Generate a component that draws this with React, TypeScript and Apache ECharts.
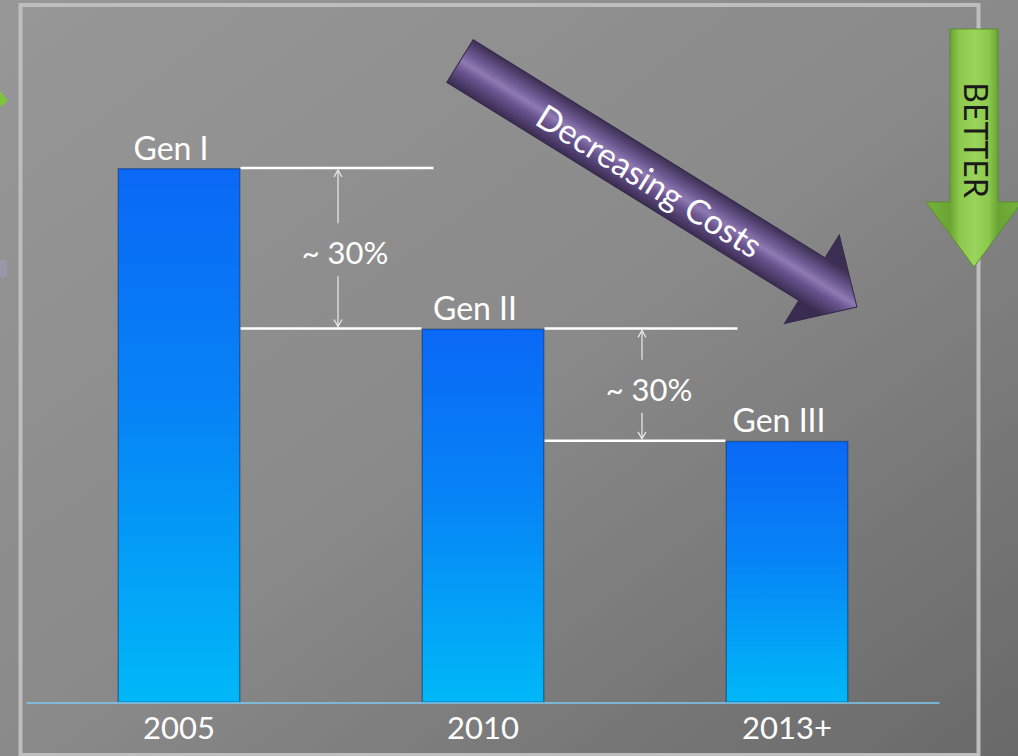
import React, { useEffect, useRef } from "react";
import * as echarts from "echarts";

// Cost per generation, indexed to Gen I = 100
const categories = ["2005", "2010", "2013+"];
const generations = ["Gen I", "Gen II", "Gen III"];
const costs = [100, 70, 49];
const stepLabels = ["~ 30%", "~ 30%"];
const trendLabel = "Decreasing Costs";
const betterLabel = "BETTER";

const FONT = "Lato";
const BAR_WIDTH = 123;

export default function App() {
  const ref = useRef<HTMLDivElement>(null);

  useEffect(() => {
    if (!ref.current) return;
    const chart = echarts.init(ref.current, null, { renderer: "svg" });

    chart.setOption({
      animation: false,
      backgroundColor: {
        type: "linear",
        x: 0,
        y: 0,
        x2: 1,
        y2: 1,
        colorStops: [
          { offset: 0, color: "#979797" },
          { offset: 0.5, color: "#8a8a8a" },
          { offset: 1, color: "#696969" },
        ],
      },
      grid: { left: 27, right: 79, top: 168, bottom: 53 },
      xAxis: {
        type: "category",
        data: categories,
        z: 5,
        axisLine: { lineStyle: { color: "#7ccaf2", width: 1.5 } },
        axisTick: { show: false },
        axisLabel: { color: "#ffffff", fontSize: 31, fontFamily: FONT, margin: 8 },
      },
      yAxis: { type: "value", min: 0, max: 100, show: false, splitLine: { show: false } },
      series: [
        {
          type: "bar",
          data: costs,
          barWidth: BAR_WIDTH,
          itemStyle: {
            color: new echarts.graphic.LinearGradient(0, 0, 0, 1, [
              { offset: 0, color: "#0a68f6" },
              { offset: 0.45, color: "#0684f6" },
              { offset: 1, color: "#00b8f7" },
            ]),
            borderColor: "rgba(0, 45, 110, 0.45)",
            borderWidth: 1.5,
          },
          label: {
            show: true,
            position: "top",
            distance: 5,
            offset: [-8, 0],
            color: "#ffffff",
            fontSize: 32,
            fontFamily: FONT,
            formatter: (p: any) => generations[p.dataIndex],
          },
        },
      ],
    });

    const px = (i: number, v: number) =>
      chart.convertToPixel({ gridIndex: 0 }, [categories[i], v]) as number[];

    const white = "#ffffff";
    const thin = "#ececec";
    const graphics: any[] = [];

    // Step annotations between consecutive generations
    for (let i = 0; i < costs.length - 1; i++) {
      const [cx0, yA] = px(i, costs[i]);
      const [cx1, yB] = px(i + 1, costs[i + 1]);
      const rightEdge = cx0 + BAR_WIDTH / 2;
      const nextLeft = cx1 - BAR_WIDTH / 2;
      const mid = (rightEdge + nextLeft) / 2;
      const ax = mid + 7;
      const ty = (yA + yB) / 2 + 4;

      graphics.push(
        {
          type: "line",
          shape: { x1: rightEdge, y1: yA, x2: nextLeft + 12, y2: yA },
          style: { stroke: white, lineWidth: 2.5 },
        },
        {
          type: "line",
          shape: { x1: rightEdge, y1: yB, x2: nextLeft, y2: yB },
          style: { stroke: white, lineWidth: 2.5 },
        },
        {
          type: "line",
          shape: { x1: ax, y1: yA + 2, x2: ax, y2: ty - 29 },
          style: { stroke: thin, lineWidth: 1.2 },
        },
        {
          type: "polyline",
          shape: { points: [[ax - 4, yA + 9], [ax, yA + 2], [ax + 4, yA + 9]] },
          style: { stroke: thin, lineWidth: 1.2, fill: "none" },
        },
        {
          type: "line",
          shape: { x1: ax, y1: ty + 24, x2: ax, y2: yB - 2 },
          style: { stroke: thin, lineWidth: 1.2 },
        },
        {
          type: "polyline",
          shape: { points: [[ax - 4, yB - 9], [ax, yB - 2], [ax + 4, yB - 9]] },
          style: { stroke: thin, lineWidth: 1.2, fill: "none" },
        },
        {
          type: "text",
          style: {
            text: stepLabels[i],
            x: ax + 7,
            y: ty,
            fill: white,
            font: `31px ${FONT}`,
            textAlign: "center",
            textVerticalAlign: "middle",
          },
        }
      );
    }

    // Slide frame
    graphics.push({
      type: "rect",
      z: -1,
      shape: { x: 20.5, y: 5, width: 958, height: 750 },
      style: { fill: "none", stroke: "#bebebe", lineWidth: 4 },
    });

    // Purple trend arrow
    const angle = Math.atan2(246, 397);
    graphics.push({
      type: "group",
      x: 460,
      y: 61,
      rotation: -angle,
      children: [
        {
          type: "polygon",
          shape: {
            points: [
              [0, -25],
              [414, -25],
              [414, -52],
              [467, 0],
              [414, 52],
              [414, 25],
              [0, 25],
            ],
          },
          style: {
            fill: {
              type: "linear",
              x: 0,
              y: -25,
              x2: 0,
              y2: 25,
              global: true,
              colorStops: [
                { offset: 0, color: "#3d2f54" },
                { offset: 0.3, color: "#6e5a93" },
                { offset: 0.48, color: "#8f7bb2" },
                { offset: 0.65, color: "#6a5590" },
                { offset: 1, color: "#3a2c51" },
              ],
            },
            stroke: "#35294a",
            lineWidth: 1,
          },
        },
        {
          type: "text",
          style: {
            text: trendLabel,
            x: 224,
            y: 1,
            fill: white,
            font: `34px ${FONT}`,
            textAlign: "center",
            textVerticalAlign: "middle",
          },
        },
      ],
    });

    // Green "better" arrow
    graphics.push(
      {
        type: "polygon",
        shape: {
          points: [
            [950, 29],
            [998, 29],
            [998, 202],
            [1022, 202],
            [974, 267],
            [926, 202],
            [950, 202],
          ],
        },
        style: {
          fill: {
            type: "linear",
            x: 926,
            y: 0,
            x2: 1022,
            y2: 0,
            global: true,
            colorStops: [
              { offset: 0, color: "#76b23c" },
              { offset: 0.25, color: "#6aa534" },
              { offset: 0.35, color: "#8cc94d" },
              { offset: 0.5, color: "#9bd45c" },
              { offset: 0.65, color: "#8cc94d" },
              { offset: 0.75, color: "#6aa534" },
              { offset: 1, color: "#76b23c" },
            ],
          },
          stroke: "#5a8f2a",
          lineWidth: 1,
        },
      },
      {
        type: "text",
        x: 976,
        y: 140,
        rotation: -Math.PI / 2,
        style: {
          text: betterLabel,
          x: 0,
          y: 0,
          fill: "#1a1a1a",
          font: `32px ${FONT}`,
          textAlign: "center",
          textVerticalAlign: "middle",
        },
      },
      // Edges of neighbouring slide shapes
      {
        type: "polygon",
        shape: { points: [[0, 91], [8, 101], [0, 107]] },
        style: { fill: "#7cc43a" },
      },
      {
        type: "rect",
        shape: { x: 0, y: 260, width: 7, height: 17 },
        style: { fill: "#9898aa" },
      }
    );

    chart.setOption({ graphic: graphics });

    return () => chart.dispose();
  }, []);

  return (
    <div
      ref={ref}
      style={{ position: "absolute", left: 0, top: 0, width: 1018, height: 756 }}
    />
  );
}
